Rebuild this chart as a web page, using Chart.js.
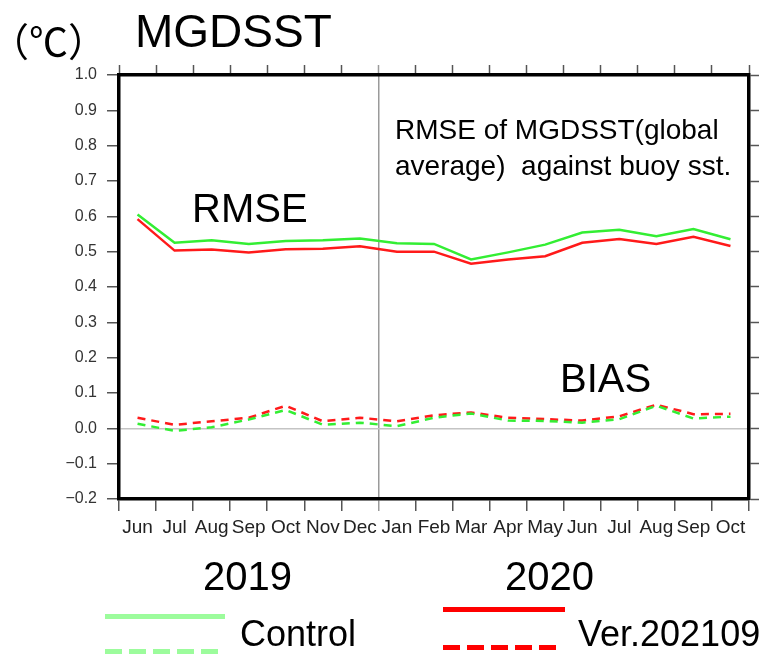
<!DOCTYPE html>
<html>
<head>
<meta charset="utf-8">
<script src="https://cdn.jsdelivr.net/npm/chart.js@4"></script>
<style>
  html, body { margin:0; padding:0; background:#fff; }
  #wrap { position:relative; width:769px; height:654px; overflow:hidden; font-family:"Liberation Sans", Arial, sans-serif; color:#000; }
  #c { position:absolute; left:0; top:0; }
  .t { position:absolute; line-height:1; white-space:pre; }
  .ln { position:absolute; height:5px; }
</style>
</head>
<body>
<div id="wrap">
  <canvas id="c" width="769" height="654"></canvas>
  <div class="t" style="left:-10px;top:20px;font-size:39px;font-family:'Noto Sans CJK JP';">（℃）</div>
  <div class="t" style="left:135px;top:8px;font-size:46px;">MGDSST</div>
  <div class="t" style="left:192px;top:188px;font-size:40px;">RMSE</div>
  <div class="t" style="left:395px;top:116px;font-size:28px;">RMSE of MGDSST(global</div>
  <div class="t" style="left:395px;top:152px;font-size:28px;">average)  against buoy sst.</div>
  <div class="t" style="left:560px;top:358px;font-size:40px;">BIAS</div>
  <div class="t" style="left:203px;top:556px;font-size:40px;">2019</div>
  <div class="t" style="left:505px;top:556px;font-size:40px;">2020</div>
  <div class="ln" style="left:105px;top:614px;width:120px;background:#9cfc9c;"></div>
  <div class="ln" style="left:105px;top:649px;width:118px;background:repeating-linear-gradient(90deg,#9cfc9c 0 17px,transparent 17px 24px);"></div>
  <div class="t" style="left:240px;top:616px;font-size:36px;">Control</div>
  <div class="ln" style="left:443px;top:607px;width:122px;background:#ff0000;"></div>
  <div class="ln" style="left:443px;top:645px;width:120px;background:repeating-linear-gradient(90deg,#ff0000 0 17px,transparent 17px 24px);"></div>
  <div class="t" style="left:578px;top:616px;font-size:36px;">Ver.202109</div>
</div>
<script>
const months = ["Jun","Jul","Aug","Sep","Oct","Nov","Dec","Jan","Feb","Mar","Apr","May","Jun","Jul","Aug","Sep","Oct"];
const yTicks = [-0.2,-0.1,0.0,0.1,0.2,0.3,0.4,0.5,0.6,0.7,0.8,0.9,1.0];
const rmseControl = [0.605,0.525,0.532,0.522,0.530,0.532,0.537,0.524,0.522,0.478,0.498,0.520,0.554,0.562,0.544,0.564,0.535];
const rmseVer     = [0.592,0.503,0.506,0.498,0.507,0.508,0.515,0.500,0.500,0.466,0.478,0.487,0.525,0.536,0.522,0.542,0.516];
const biasControl = [0.013,-0.007,0.003,0.025,0.052,0.010,0.016,0.006,0.030,0.042,0.022,0.021,0.016,0.026,0.064,0.028,0.033];
const biasVer     = [0.030,0.010,0.020,0.030,0.064,0.020,0.030,0.020,0.037,0.045,0.030,0.026,0.022,0.034,0.067,0.040,0.041];

const GREEN = '#33ee33';
const RED = '#ff1a1a';
const TICK = '#555';
const AX = '#000';

const ds = (data, color, dashed) => ({
  data, borderColor: color, backgroundColor: color, borderWidth: 2.5,
  pointRadius: 0, tension: 0, fill: false, borderDash: dashed ? [8,6] : [],
  xAxisID: 'x', yAxisID: 'y'
});

new Chart(document.getElementById('c'), {
  type: 'line',
  data: {
    labels: months,
    datasets: [
      ds(rmseControl, GREEN, false),
      ds(rmseVer, RED, false),
      ds(biasControl, GREEN, true),
      ds(biasVer, RED, true)
    ]
  },
  options: {
    responsive: false,
    animation: false,
    devicePixelRatio: 1,
    layout: { padding: 0 },
    plugins: { legend: { display: false }, tooltip: { enabled: false } },
    scales: {
      x: {
        type: 'category', position: 'bottom', offset: true,
        grid: {
          offset: true, drawOnChartArea: true, tickLength: 12,
          color: c => c.index === 7 ? '#9a9a9a' : 'rgba(0,0,0,0)',
          tickColor: c => c.index === 7 ? '#9a9a9a' : TICK,
          lineWidth: 1.5, tickWidth: 1.5
        },
        border: { display: true, color: AX, width: 3.5 },
        ticks: { color: '#222', font: { family: 'Liberation Sans', size: 19 }, padding: 5, maxRotation: 0, autoSkip: false },
        afterFit: s => { s.height = 155; }
      },
      x2: {
        type: 'category', position: 'top', offset: true,
        grid: { offset: true, drawOnChartArea: false, tickLength: 10,
          tickColor: c => c.index === 7 ? '#9a9a9a' : TICK, tickWidth: 1.5 },
        border: { display: true, color: AX, width: 3.5 },
        ticks: { display: false },
        afterFit: s => { s.height = 75; }
      },
      y: {
        type: 'linear', position: 'left', min: -0.2, max: 1.0,
        afterBuildTicks: s => { s.ticks = yTicks.map(v => ({ value: v })); },
        grid: {
          drawOnChartArea: true, tickLength: 12,
          color: c => (c.tick && Math.abs(c.tick.value) < 1e-9) ? '#c4c4c4' : 'rgba(0,0,0,0)',
          tickColor: TICK, lineWidth: 1.5, tickWidth: 1.5
        },
        border: { display: true, color: AX, width: 3.5 },
        ticks: { color: '#333', font: { family: 'Liberation Sans', size: 16 }, padding: 10,
          callback: v => v < 0 ? '\u2212' + Math.abs(v).toFixed(1) : v.toFixed(1) },
        afterFit: s => { s.width = 119; }
      },
      y2: {
        type: 'linear', position: 'right', min: -0.2, max: 1.0,
        afterBuildTicks: s => { s.ticks = yTicks.map(v => ({ value: v })); },
        grid: { drawOnChartArea: false, tickLength: 10, tickColor: TICK, tickWidth: 1.5 },
        border: { display: true, color: AX, width: 3.5 },
        ticks: { display: false },
        afterFit: s => { s.width = 20; }
      }
    }
  }
});
</script>
</body>
</html>
